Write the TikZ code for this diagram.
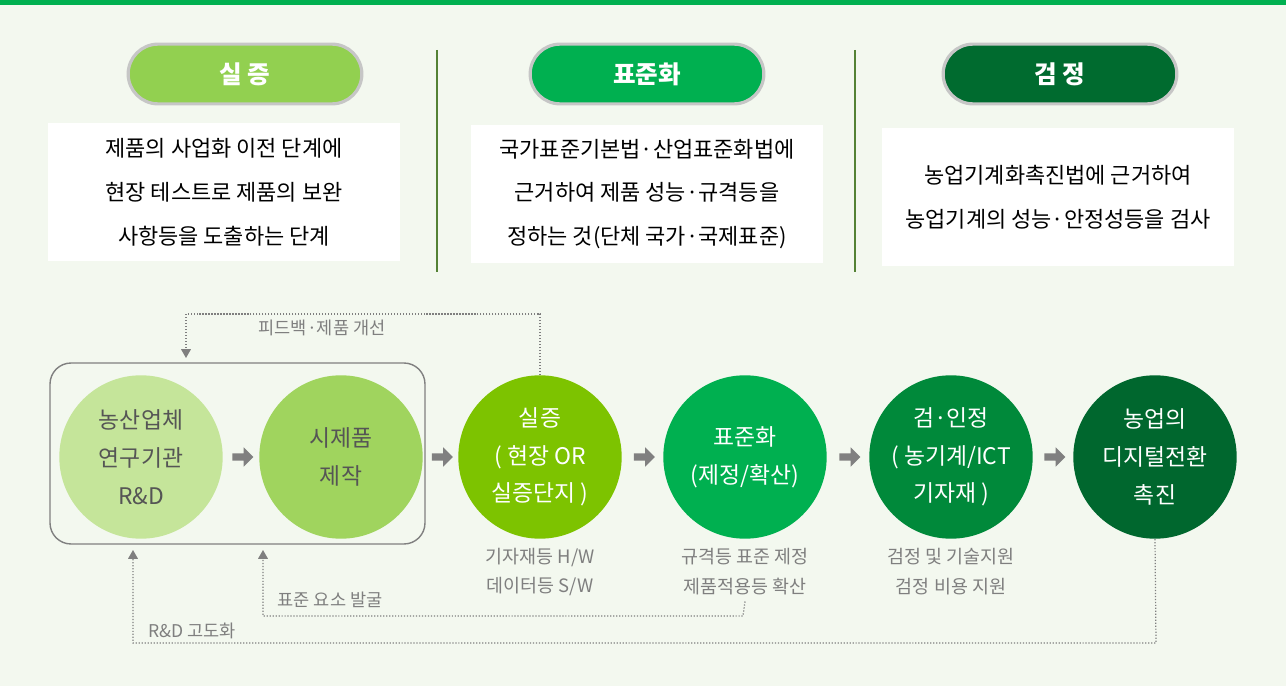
\documentclass[tikz,border=0pt]{standalone}
\usepackage{fontspec}
\setmainfont{Noto Sans CJK KR}
\usetikzlibrary{arrows.meta,shapes.arrows,calc}
\definecolor{bg}{HTML}{F3F8EF}
\definecolor{topbar}{HTML}{00B050}
\definecolor{sepline}{HTML}{548235}
\definecolor{cA}{HTML}{C5E59A}
\definecolor{cB}{HTML}{A0D45E}
\definecolor{cC}{HTML}{7DC300}
\definecolor{cD}{HTML}{00B050}
\definecolor{cE}{HTML}{00893A}
\definecolor{cF}{HTML}{00672E}
\definecolor{pA}{HTML}{92D050}
\definecolor{pC}{HTML}{006B2F}
\definecolor{txt}{HTML}{555555}
\definecolor{note}{HTML}{7F7F7F}
\tikzset{
  pill/.style={draw=gray!45, line width=1.8pt, rounded corners=17pt, minimum width=133pt, minimum height=34pt, text=white, font=\bfseries\fontsize{14}{14}\selectfont},
  infobox/.style={fill=white, minimum width=200pt, minimum height=79pt, align=center, font=\fontsize{12.5}{25}\selectfont},
  stage/.style={circle, minimum size=93pt, inner sep=0pt, align=center, text=white, font=\fontsize{13}{21.5}\selectfont},
  blockarrow/.style={single arrow, fill=gray, minimum height=12pt, minimum width=11pt, single arrow head extend=2pt, inner sep=1pt},
  feedback/.style={draw=note, densely dotted, line width=0.7pt, -{Triangle[length=5pt,width=5.5pt]}},
  notetext/.style={text=note, font=\fontsize{10}{10}\selectfont},
  sublabel/.style={text=note, align=center, font=\fontsize{10.5}{17}\selectfont}
}
\begin{document}
\begin{tikzpicture}[x=0.02cm, y=-0.02cm]
  \useasboundingbox (0,0) rectangle (1286,686);
  \fill[bg] (0,0) rectangle (1286,686);
  \fill[topbar] (0,0) rectangle (1286,5);
  % headers
  \node (p1) at (245,74) [pill, fill=pA] {실 증};
  \node (p2) at (647,74) [pill, fill=cD] {표준화};
  \node (p3) at (1060,74) [pill, fill=pC] {검 정};
  \draw[sepline, line width=1.4pt] (437,50) -- (437,272);
  \draw[sepline, line width=1.4pt] (855,50) -- (855,272);
  \node (i1) at (224,192) [infobox] {제품의 사업화 이전 단계에\\현장 테스트로 제품의 보완\\사항등을 도출하는 단계};
  \node (i2) at (647,194) [infobox] {국가표준기본법·산업표준화법에\\근거하여 제품 성능·규격등을\\정하는 것(단체 국가·국제표준)};
  \node (i3) at (1058,197) [infobox] {농업기계화촉진법에 근거하여\\농업기계의 성능·안정성등을 검사};
  % flow
  \draw[draw=gray, line width=0.8pt, rounded corners=12pt] (50,363) rectangle (425,544);
  \node (s1) at (141,457) [stage, fill=cA, text=txt] {농산업체\\연구기관\\R\&D};
  \node (s2) at (341,457) [stage, fill=cB, text=txt] {시제품\\제작};
  \node (s3) at (540,457) [stage, fill=cC] {실증\\( 현장 OR\\실증단지 )};
  \node (s4) at (745,457) [stage, fill=cD] {표준화\\(제정/확산)};
  \node (s5) at (951,457) [stage, fill=cE] {검·인정\\( 농기계/ICT\\기자재 )};
  \node (s6) at (1155,457) [stage, fill=cF] {농업의\\디지털전환\\촉진};
  \foreach \a/\b in {s1/s2,s2/s3,s3/s4,s4/s5,s5/s6}
    \node (ar\a) at ($(\a.east)!0.5!(\b.west)$) [blockarrow] {};
  \node (n3) at (540,572) [sublabel] {기자재등 H/W\\데이터등 S/W};
  \node (n4) at (745,572) [sublabel] {규격등 표준 제정\\제품적용등 확산};
  \node (n5) at (951,572) [sublabel] {검정 및 기술지원\\검정 비용 지원};
  % loops
  \coordinate (fbA) at (538,314);
  \coordinate (fbB) at (186,314);
  \coordinate (fbE) at (186,358);
  \draw[feedback] (s3.north) |- (fbA) -- (fbB) -- (fbE);
  \node (fbl) at (322,328) [notetext] {피드백·제품 개선};
  \coordinate (stA) at (743,616);
  \coordinate (stE) at (263,550);
  \draw[feedback] (n4.south) -- (stA) -| (stE);
  \node (stl) at (330,600) [notetext] {표준 요소 발굴};
  \coordinate (rdA) at (1156,643);
  \coordinate (rdE) at (133,550);
  \draw[feedback] (s6.south) -- (rdA) -| (rdE);
  \node (rdl) at (192,631) [notetext] {R\&D 고도화};
\end{tikzpicture}
\end{document}
